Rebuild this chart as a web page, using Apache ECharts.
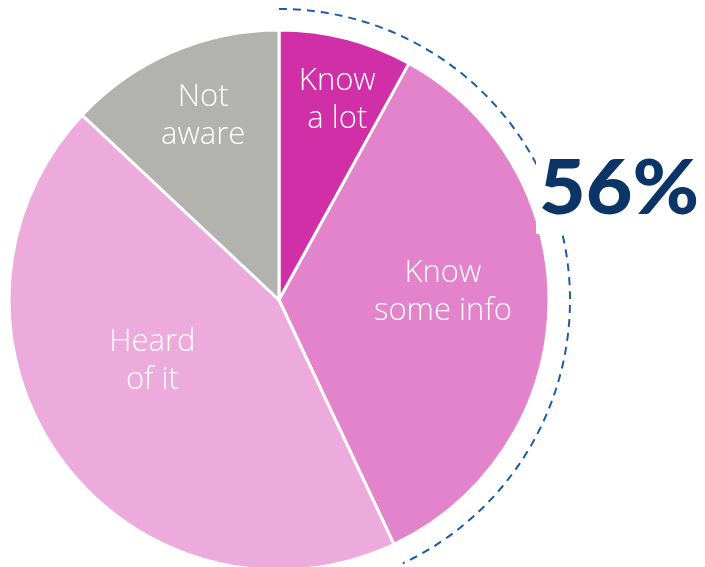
<!DOCTYPE html>
<html>
<head>
<meta charset="utf-8">
<script src="https://cdn.jsdelivr.net/npm/echarts@6/dist/echarts.min.js"></script>
<style>
html,body{margin:0;padding:0;background:#fff;}
#chart{width:705px;height:567px;}
</style>
</head>
<body>
<div id="chart"></div>
<script>
const categories = ['Know\na lot', 'Know\nsome info', 'Heard\nof it', 'Not\naware'];
const values = [8, 35, 44, 13];
const highlightLabel = '56%';
const highlightCount = 2; // arc spans first two slices

const colors = ['#d12fa7', '#e283cb', '#edaadc', '#b2b2ae'];
const labelShift = [[24, -66], [26, -12], [-15, -20], [-21, -57]];

const CX = 279, CY = 300, R = 270, ARC_R = 291;

const total = values.reduce((a, b) => a + b, 0);
const spanShare = values.slice(0, highlightCount).reduce((a, b) => a + b, 0) / total;

const chart = echarts.init(document.getElementById('chart'), null, {renderer: 'canvas'});
chart.setOption({
  animation: false,
  backgroundColor: '#ffffff',
  series: [{
    type: 'pie',
    center: [CX, CY],
    radius: [0, R],
    startAngle: 90,
    clockwise: true,
    silent: true,
    data: categories.map((c, i) => ({
      name: c, value: values[i],
      itemStyle: {color: colors[i]}
    })),
    itemStyle: {borderColor: '#ffffff', borderWidth: 3},
    label: {
      show: true,
      position: 'inside',
      formatter: '{b}',
      color: '#ffffff',
      fontFamily: '"Open Sans", Lato, sans-serif',
      fontWeight: 300,
      fontSize: 31,
      lineHeight: 38,
      align: 'center'
    },
    labelLine: {show: false},
    labelLayout: function (p) {
      const s = labelShift[p.dataIndex];
      return {dx: s[0], dy: s[1]};
    }
  }],
  graphic: [
    {
      type: 'arc',
      z: 10,
      shape: {
        cx: CX, cy: CY, r: ARC_R,
        startAngle: -Math.PI / 2,
        endAngle: -Math.PI / 2 + 2 * Math.PI * spanShare,
        clockwise: true
      },
      style: {fill: null, stroke: '#1d5ca6', lineWidth: 2, lineDash: [8, 6]}
    },
    {
      type: 'rect',
      z: 20,
      shape: {x: 536, y: 159, width: 169, height: 75},
      style: {fill: '#ffffff'}
    },
    {
      type: 'text',
      z: 30,
      x: 539,
      y: 151,
      scaleX: 1.06,
      style: {
        text: highlightLabel,
        fill: '#0b3566',
        font: '900 76px Lato, "Noto Sans", sans-serif'
      }
    }
  ]
});
</script>
</body>
</html>
